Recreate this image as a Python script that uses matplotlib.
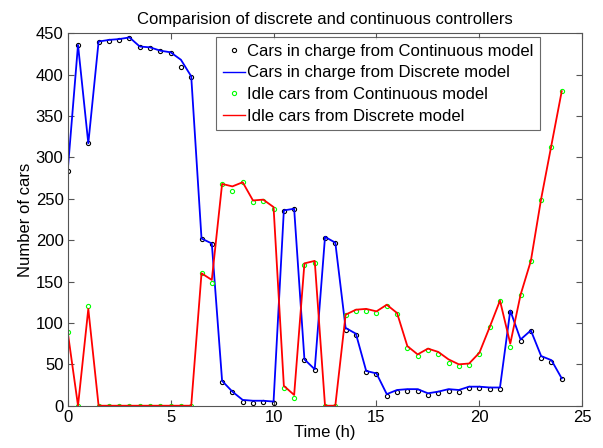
import matplotlib
matplotlib.use("Agg")
import matplotlib.pyplot as plt
import numpy as np

plt.rcParams['font.family'] = ['Liberation Sans', 'DejaVu Sans']

time_h = np.arange(0, 24.5, 0.5)

charge_cont = [284, 436, 317, 439, 441, 442, 444, 433, 432, 428, 426, 409, 397,
               201, 195, 29, 16, 5, 3, 4, 3, 235, 238, 55, 43, 203, 196,
               92, 86, 41, 38, 12, 17, 18, 18, 13, 15, 18, 16, 21, 21, 20, 20,
               113, 78, 90, 58, 53, 32]
charge_disc = [284, 436, 317, 440, 442, 443, 445, 434, 433, 429, 427, 418, 398,
               202, 196, 30, 17, 7, 6, 6, 5, 236, 238, 56, 44, 204, 197,
               94, 87, 42, 39, 14, 19, 20, 20, 15, 17, 20, 19, 23, 23, 22, 22,
               115, 80, 91, 60, 55, 33]
idle_cont = [89, 0, 120, 0, 0, 0, 0, 0, 0, 0, 0, 0, 0,
             160, 148, 268, 259, 270, 246, 247, 238, 21, 9, 170, 173, 0, 0,
             109, 114, 115, 112, 121, 111, 70, 60, 67, 62, 52, 48, 49, 62, 95, 126,
             71, 134, 175, 248, 313, 380]
idle_disc = [89, 0, 117, 0, 0, 0, 0, 0, 0, 0, 0, 0, 0,
             160, 152, 268, 265, 270, 248, 249, 240, 24, 13, 172, 175, 0, 0,
             110, 116, 117, 114, 122, 112, 72, 62, 69, 65, 56, 50, 51, 64, 95, 127,
             75, 134, 175, 250, 315, 380]

fig = plt.figure(figsize=(6.03, 4.48), dpi=100)
ax = fig.add_axes([0.1123, 0.0944, 0.8534, 0.8313])

ax.plot(time_h, charge_cont, 'o', color='black', mfc='none', ms=3.0, mew=0.8,
        label='Cars in charge from Continuous model')
ax.plot(time_h, charge_disc, '-', color=(0, 0, 1), lw=1.3,
        label='Cars in charge from Discrete model')
ax.plot(time_h, idle_cont, 'o', color=(0, 1, 0), mfc='none', ms=3.0, mew=0.8,
        label='Idle cars from Continuous model')
ax.plot(time_h, idle_disc, '-', color=(1, 0, 0), lw=1.3,
        label='Idle cars from Discrete model')

ax.set_xlim(0, 25)
ax.set_ylim(0, 450)
ax.set_xticks(np.arange(0, 26, 5))
ax.set_yticks(np.arange(0, 451, 50))
ax.tick_params(direction='in', top=True, right=True, labelsize=12, length=4,
               color='#555555', pad=3)
for s in ax.spines.values():
    s.set_color('#555555')
    s.set_linewidth(0.8)

ax.set_xlabel('Time (h)', fontsize=12, labelpad=0)
ax.set_ylabel('Number of cars', fontsize=12, labelpad=2)
ax.set_title('Comparision of discrete and continuous controllers', fontsize=12, pad=7)

leg = ax.legend(loc='upper right', bbox_to_anchor=(0.918, 0.99), fontsize=12,
                frameon=True, fancybox=False, edgecolor='#444444',
                handlelength=1.35, handletextpad=0.1, borderpad=0.4, labelspacing=0.4,
                borderaxespad=0.0)
leg.get_frame().set_linewidth(0.8)
for h in leg.get_lines():
    h.set_linewidth(1.0)

fig.savefig('out.png', dpi=100)
